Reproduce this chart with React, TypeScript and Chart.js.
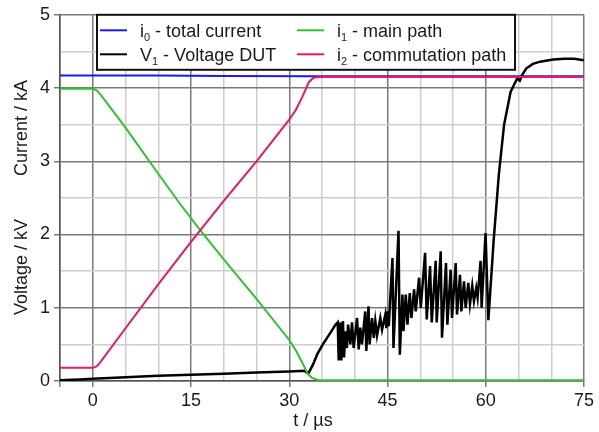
import React, { useEffect, useRef } from "react";
import { Chart, registerables } from "chart.js";
Chart.register(...registerables);

const FONT = "'Liberation Sans', Arial, sans-serif";

// i0 - total current (kA)
const tI0 = [-5, 10, 20, 34, 75];
const vI0 = [4.17, 4.17, 4.165, 4.16, 4.16];

// i1 - main path (kA)
const tI1 = [-5, 0, 0.6, 1.2, 5, 10, 13.4, 16.4, 20, 25, 30, 31, 32, 32.8, 33.5, 34.5, 75];
const vI1 = [3.99, 3.99, 3.97, 3.91, 3.46, 2.83, 2.41, 2.06, 1.66, 1.12, 0.56, 0.42, 0.25, 0.1, 0.04, 0.01, 0.01];

// i2 - commutation path (kA)
const tI2 = [-5, 0, 0.6, 1.2, 5, 10, 15, 20, 25, 30, 31, 32, 33, 33.7, 34.5, 75];
const vI2 = [0.18, 0.18, 0.2, 0.26, 0.72, 1.32, 1.9, 2.46, 3.0, 3.57, 3.7, 3.88, 4.08, 4.14, 4.15, 4.15];

// V1 - Voltage DUT (kV)
const tV1 = [
  -5, -2, 0, 5, 10, 15, 20, 25, 30, 32.3, 32.9, 33.6, 34.3, 35.2, 36.3, 37.0, 37.4,
  37.55, 37.8, 37.95, 38.2, 38.37, 38.56, 38.8, 38.98, 39.33, 39.58, 39.83, 40.35, 40.6,
  40.85, 41.1, 41.6, 41.77, 42.1, 42.27, 42.64, 42.9, 43.14, 43.4, 43.9, 44.17, 44.67,
  44.82, 45.0, 45.2, 45.4, 45.76, 45.91, 46.68, 46.88, 47.28, 47.44, 47.79, 48.05, 48.4,
  48.65, 49.06, 49.31, 49.82, 50.08, 50.74, 50.99, 51.5, 51.75, 52.36, 52.51, 53.12,
  53.32, 53.93, 54.14, 54.64, 54.85, 55.41, 55.61, 56.07, 56.27, 56.68, 56.93, 57.34,
  57.59, 57.94, 58.2, 58.55, 58.76, 59.21, 59.37, 59.97, 60.4, 61.2, 62.0, 62.8, 63.8,
  64.8, 65.2, 65.5, 66.2, 67.2, 68.3, 70.3, 72, 73.5, 75,
];
const vV1 = [
  0.01, 0.02, 0.03, 0.05, 0.07, 0.085, 0.1, 0.115, 0.13, 0.14, 0.1, 0.22, 0.37, 0.51, 0.66, 0.76, 0.8,
  0.28, 0.8, 0.28, 0.82, 0.32, 0.68, 0.45, 0.77, 0.5, 0.8, 0.45, 0.86, 0.43,
  0.73, 0.5, 0.95, 0.41, 1.02, 0.5, 0.86, 0.59, 0.82, 0.62, 0.86, 0.7, 0.91,
  0.72, 0.95, 0.75, 1.1, 1.68, 0.45, 2.05, 0.36, 1.18, 0.68, 1.18, 0.77, 1.2,
  0.86, 1.25, 0.95, 1.41, 1.0, 1.75, 0.84, 1.57, 0.8, 1.64, 0.8, 1.77,
  0.59, 1.61, 0.77, 1.52, 0.86, 1.61, 0.91, 1.45, 0.95, 1.36, 1.0, 1.34,
  1.05, 1.3, 1.09, 1.27, 1.14, 1.64, 1.0, 2.02, 0.83, 1.91, 2.82, 3.5, 3.95,
  4.13, 4.1, 4.17, 4.27, 4.33, 4.36, 4.39, 4.4, 4.4, 4.38,
];

const xTicks = [0, 15, 30, 45, 60, 75];
const yTicks = [0, 1, 2, 3, 4, 5];

const COL_I0 = "#1a1aee";
const COL_V1 = "#000000";
const COL_I1 = "#2ec42e";
const COL_I2 = "#e6186c";

const pts = (t: number[], v: number[]) => t.map((x, i) => ({ x, y: v[i] }));

const legendItems = [
  { col: 0, row: 0, color: COL_I0, main: "i", sub: "0", rest: " - total current" },
  { col: 0, row: 1, color: COL_V1, main: "V", sub: "1", rest: " - Voltage DUT" },
  { col: 1, row: 0, color: COL_I1, main: "i", sub: "1", rest: " - main path" },
  { col: 1, row: 1, color: COL_I2, main: "i", sub: "2", rest: " - commutation path" },
];

const overlay = {
  id: "overlay",
  afterDraw(chart: any) {
    const ctx = chart.ctx as CanvasRenderingContext2D;
    const area = chart.chartArea;
    ctx.save();
    // axis titles
    ctx.fillStyle = "#1a1a1a";
    ctx.font = `18px ${FONT}`;
    ctx.textAlign = "center";
    ctx.textBaseline = "middle";
    ctx.fillText("t / \u00b5s", 313, 421);
    ctx.save();
    ctx.translate(22, 128);
    ctx.rotate(-Math.PI / 2);
    ctx.fillText("Current / kA", 0, 0);
    ctx.restore();
    ctx.save();
    ctx.translate(22, 267);
    ctx.rotate(-Math.PI / 2);
    ctx.fillText("Voltage / kV", 0, 0);
    ctx.restore();

    // legend box
    const bx = 97, by = area.top, bw = 418, bh = 55;
    ctx.fillStyle = "#ffffff";
    ctx.fillRect(bx, by, bw, bh);
    ctx.strokeStyle = "#111";
    ctx.lineWidth = 2;
    ctx.strokeRect(bx, by, bw, bh);

    const colX = [100, 297];
    const rowY = [by + 15.5, by + 39.5];
    for (const it of legendItems) {
      const lx = colX[it.col];
      const ly = rowY[it.row];
      ctx.strokeStyle = it.color;
      ctx.lineWidth = 2;
      ctx.beginPath();
      ctx.moveTo(lx, ly);
      ctx.lineTo(lx + 27, ly);
      ctx.stroke();
      let tx = lx + 40;
      ctx.fillStyle = "#1a1a1a";
      ctx.textAlign = "left";
      ctx.textBaseline = "alphabetic";
      ctx.font = `18px ${FONT}`;
      const base = ly + 6.5;
      ctx.fillText(it.main, tx, base);
      tx += ctx.measureText(it.main).width;
      ctx.font = `11px ${FONT}`;
      ctx.fillText(it.sub, tx, base + 4);
      tx += ctx.measureText(it.sub).width;
      ctx.font = `18px ${FONT}`;
      ctx.fillText(it.rest, tx, base);
    }
    ctx.restore();
  },
};

export default function App() {
  const ref = useRef<HTMLCanvasElement>(null);
  useEffect(() => {
    document.body.style.margin = "0";
    const canvas = ref.current!;
    const xMajor = (v: number) => v === -5 || xTicks.includes(v);
    const yMajor = (v: number) => yTicks.includes(v);
    const chart = new Chart(canvas, {
      type: "line",
      data: {
        datasets: [
          { label: "i2 - commutation path", data: pts(tI2, vI2), borderColor: COL_I2, borderWidth: 2 },
          { label: "i1 - main path", data: pts(tI1, vI1), borderColor: COL_I1, borderWidth: 2 },
          { label: "V1 - Voltage DUT", data: pts(tV1, vV1), borderColor: COL_V1, borderWidth: 2.5 },
          { label: "i0 - total current", data: pts(tI0, vI0), borderColor: COL_I0, borderWidth: 2 },
        ],
      },
      options: {
        responsive: false,
        animation: false,
        parsing: true,
        elements: { point: { radius: 0 }, line: { tension: 0 } },
        layout: { padding: { top: 13, right: 15, bottom: 0, left: 0 } },
        plugins: { legend: { display: false }, tooltip: { enabled: false } },
        scales: {
          x: {
            type: "linear",
            min: -5,
            max: 75,
            afterFit: (s: any) => { s.height = 51; },
            ticks: {
              stepSize: 5,
              autoSkip: false,
              maxRotation: 0,
              padding: 3,
              color: "#1a1a1a",
              font: { family: FONT, size: 18 },
              callback: (v: any) => (xTicks.includes(Number(v)) ? String(v) : ""),
            },
            grid: {
              lineWidth: 1.5,
              tickLength: 6,
              color: (c: any) => (xMajor(c.tick?.value) ? "#7a7a7a" : "#cdcdcd"),
              tickColor: (c: any) => (xMajor(c.tick?.value) ? "#7a7a7a" : "rgba(0,0,0,0)"),
            },
            border: { color: "#555", width: 1.5 },
          },
          y: {
            type: "linear",
            min: 0,
            max: 5,
            afterFit: (s: any) => { s.width = 60; },
            ticks: {
              stepSize: 0.5,
              autoSkip: false,
              padding: 4,
              color: "#1a1a1a",
              font: { family: FONT, size: 18 },
              callback: (v: any) => (yTicks.includes(Number(v)) ? String(v) : ""),
            },
            grid: {
              lineWidth: 1.5,
              tickLength: 6,
              color: (c: any) => (yMajor(c.tick?.value) ? "#7a7a7a" : "#cdcdcd"),
              tickColor: (c: any) => (yMajor(c.tick?.value) ? "#7a7a7a" : "rgba(0,0,0,0)"),
            },
            border: { color: "#555", width: 1.5 },
          },
        },
      },
      plugins: [overlay],
    } as any);
    return () => chart.destroy();
  }, []);
  return (
    <div style={{ width: 599, height: 432 }}>
      <canvas ref={ref} width={599} height={432} style={{ display: "block" }} />
    </div>
  );
}
